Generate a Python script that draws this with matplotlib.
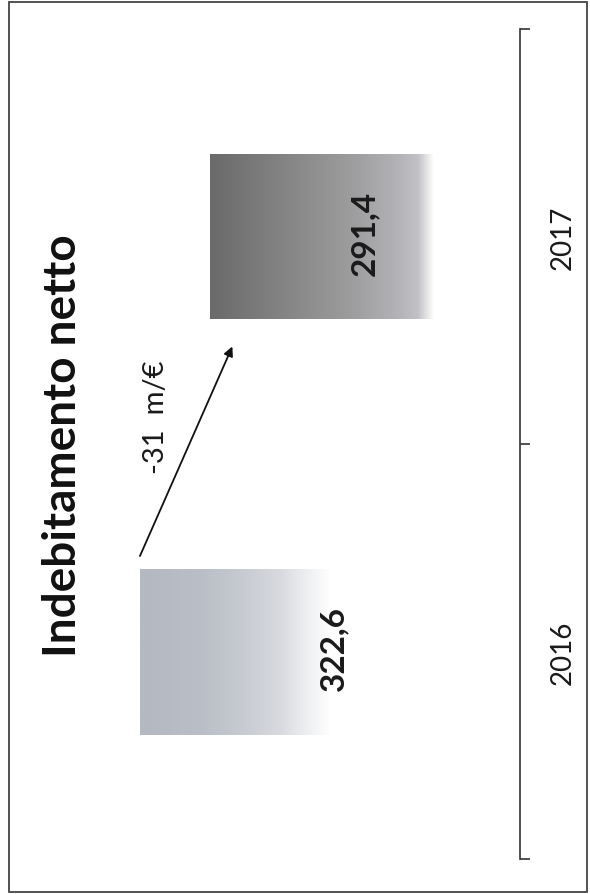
import numpy as np
import matplotlib.pyplot as plt
from matplotlib.colors import LinearSegmentedColormap
from matplotlib.patches import Rectangle

plt.rcParams['font.family'] = ['Lato', 'DejaVu Sans']

# data
years = ['2016', '2017']
values = [322.6, 291.4]
value_labels = ['322,6', '291,4']
title = 'Indebitamento netto'

fig = plt.figure(figsize=(5.9, 8.95), dpi=100)

# axes: value axis runs right-to-left, categories bottom-to-top (rotated chart)
ax = fig.add_axes([30/590, 35/895, 490/590, 830/895])
base = 153.2
ax.set_xlim(371.6, base)
ax.set_ylim(-0.5, 1.5)

# gradient fills, dark at the value end fading out toward the base
grad_stops = [
    [(0, '#b4b8c0'), (0.16, '#babec6'), (0.26, '#c6c9d0'), (0.37, '#d8dadf'),
     (0.42, '#e9eaee'), (0.5, '#ffffff'), (1, '#ffffff')],
    [(0, '#6a6a6a'), (0.29, '#8a8a8a'), (0.48, '#a0a0a2'), (0.61, '#b4b4b8'),
     (0.67, '#c2c2c6'), (0.72, '#ffffff'), (1, '#ffffff')],
]
bar_h = 0.4
bars = ax.barh(range(len(values)), [v - base for v in values], left=base,
               height=bar_h, color='none', edgecolor='none')
g = np.linspace(0, 1, 512).reshape(1, -1)
for i, (v, b) in enumerate(zip(values, bars)):
    cm = LinearSegmentedColormap.from_list('g%d' % i, grad_stops[i])
    im = ax.imshow(g, cmap=cm, aspect='auto', interpolation='bilinear',
                   extent=(v, base, i - bar_h/2, i + bar_h/2), zorder=1)
    im.set_clip_path(b)

# value labels inside the bars
label_offsets = [194, 155]  # px from value end
for i, (v, lab) in enumerate(zip(values, value_labels)):
    ax.annotate(lab, xy=(v, i), xytext=(label_offsets[i]*0.72, 4*0.72),
                textcoords='offset points', rotation=90, ha='center', va='center',
                fontsize=24, fontweight='bold', color='#1a1a1a', zorder=3)

# change arrow
diff = values[1] - values[0]
ax.annotate('', xy=(values[1] - 10, 1 - 0.265), xytext=(values[0], 0 + 0.23),
            arrowprops=dict(arrowstyle='-|>', color='#111111', lw=1.3,
                            mutation_scale=14, shrinkA=0, shrinkB=0))
ax.text(values[0] - 7, 0.567, '%d  m/€' % round(diff), rotation=90,
        ha='center', va='center', fontsize=21, color='#1a1a1a')

# category axis on the right
for s in ['top', 'bottom', 'left']:
    ax.spines[s].set_visible(False)
ax.spines['right'].set_color('#333333')
ax.spines['right'].set_linewidth(1.2)
ax.xaxis.set_visible(False)
ax.yaxis.tick_right()
ax.set_yticks([-0.5, 0.5, 1.5])
ax.set_yticklabels([])
ax.tick_params(axis='y', which='major', direction='out', length=7, width=1.2,
               color='#333333')
for i, yr in enumerate(years):
    ax.text(1.088, i, yr, transform=ax.get_yaxis_transform(), rotation=90,
            ha='center', va='center', fontsize=20, color='#1a1a1a')

# title
fig.text(63/590, 1 - 446/895, title, rotation=90, ha='center', va='center',
         fontsize=33, fontweight='bold', color='#111111')

# outer frame
fig.patches.append(Rectangle((9/590, 2/895), 578/590, 890/895, transform=fig.transFigure,
                             fill=False, edgecolor='#444444', lw=1.3))

fig.savefig('out.png', dpi=100)
